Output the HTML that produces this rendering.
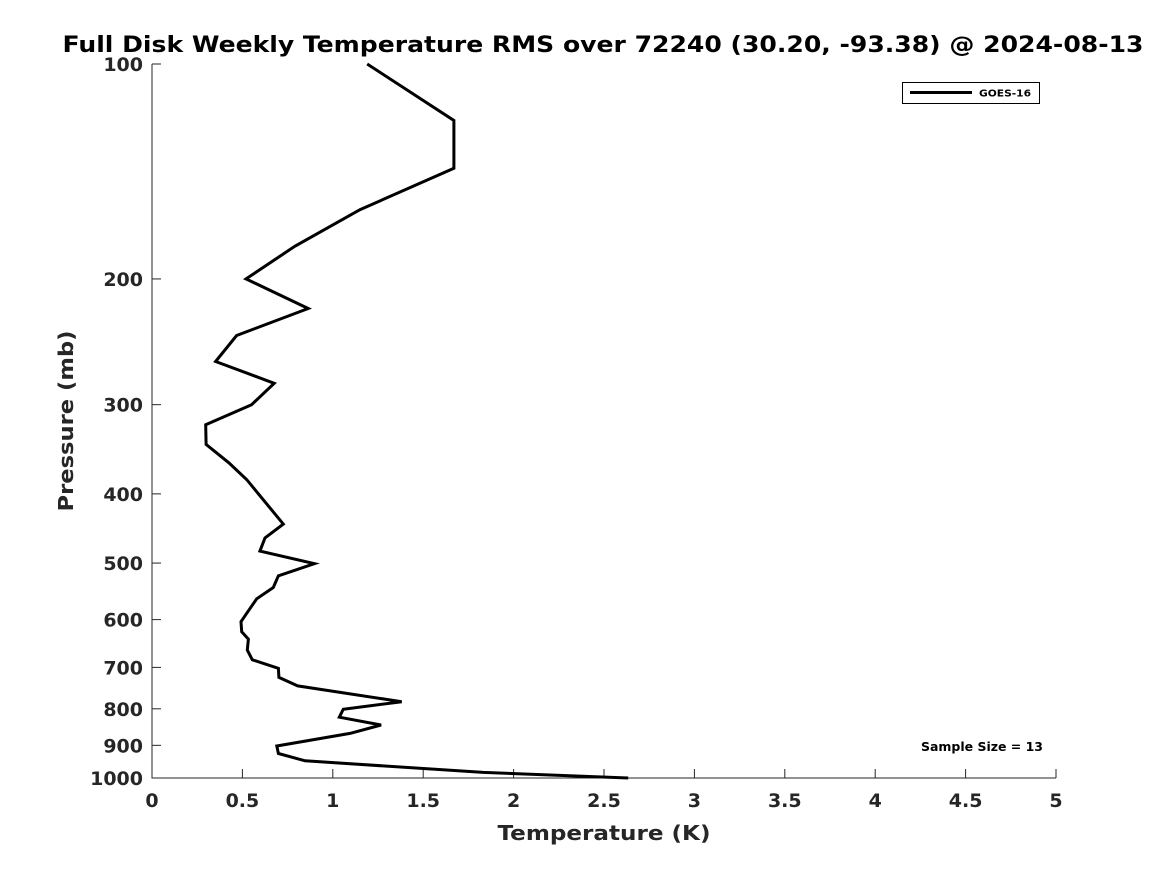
<!DOCTYPE html>
<html><head><meta charset="utf-8"><style>
body{margin:0;background:#fff;}
svg{display:block;font-family:"DejaVu Sans","Liberation Sans",sans-serif;}
</style></head><body>
<svg id="chart" width="1167" height="875" viewBox="0 0 1167 875">
<rect width="1167" height="875" fill="#fff"/>
<text x="603" y="52" text-anchor="middle" font-size="22" font-weight="bold" fill="#000" textLength="1081" lengthAdjust="spacingAndGlyphs">Full Disk Weekly Temperature RMS over 72240 (30.20, -93.38) @ 2024-08-13</text>
<g id="axes"></g>
<text x="604" y="840" text-anchor="middle" font-size="20" font-weight="bold" fill="#262626" textLength="213" lengthAdjust="spacingAndGlyphs">Temperature (K)</text>
<text transform="translate(73,421) rotate(-90)" text-anchor="middle" font-size="20" font-weight="bold" fill="#262626" textLength="181" lengthAdjust="spacingAndGlyphs">Pressure (mb)</text>
<g>
<rect x="902.5" y="82.5" width="137" height="21" fill="#fff" stroke="#000" stroke-width="1"/>
<line x1="910" y1="92.5" x2="972" y2="92.5" stroke="#000" stroke-width="3"/>
<text x="979" y="96.5" font-size="10" font-weight="bold" fill="#000" textLength="52" lengthAdjust="spacingAndGlyphs">GOES-16</text>
</g>
<text x="921" y="751" font-size="12" font-weight="bold" fill="#000" textLength="122" lengthAdjust="spacingAndGlyphs">Sample Size = 13</text>
</svg>
<script>
const xTicks=[0,0.5,1,1.5,2,2.5,3,3.5,4,4.5,5];
const xTickLabels=["0","0.5","1","1.5","2","2.5","3","3.5","4","4.5","5"];
const yTicks=[100,200,300,400,500,600,700,800,900,1000];
const yTickLabels=["100","200","300","400","500","600","700","800","900","1000"];
const pressures=[100,120,140,160,180,200,220,240,261,280,300,320,341,362,382,441,461,481,501,521,541,561,588,604,624,639,662,683,702,723,743,782,801,822,843,866,902,924,946,982,1000];
const rms=[1.19,1.67,1.67,1.15,0.79,0.52,0.864,0.468,0.352,0.676,0.551,0.297,0.299,0.426,0.524,0.726,0.625,0.597,0.898,0.699,0.671,0.579,0.524,0.492,0.496,0.533,0.527,0.555,0.699,0.702,0.806,1.381,1.058,1.036,1.267,1.095,0.69,0.699,0.846,1.832,2.634];
const L=152,R=1056,T=64,B=778;
const xs=v=>L+(v-0)/(5-0)*(R-L);
const ys=p=>T+(Math.log10(p)-2)/(3-2)*(B-T);
const NS="http://www.w3.org/2000/svg";
const g=document.getElementById('axes');
function mk(t,a){const e=document.createElementNS(NS,t);for(const k in a)e.setAttribute(k,a[k]);g.appendChild(e);return e;}
let e=mk('line',{x1:L,y1:T,x2:L,y2:B+0.5,stroke:'#262626','stroke-width':1});


e=mk('line',{x1:L,y1:B,x2:R,y2:B,stroke:'#262626','stroke-width':1});


xTicks.forEach((v,i)=>{
 const x=xs(v);
 let t=mk('line',{x1:x,y1:B,x2:x,y2:B-9,stroke:'#262626','stroke-width':1});
 
 
 let l=mk('text',{x:x,y:B+29,'text-anchor':'middle','font-size':19,'font-weight':'bold',fill:'#262626'});
 l.textContent=xTickLabels[i];
 
 
});
yTicks.forEach((p,i)=>{
 const y=ys(p);
 let t=mk('line',{x1:L,y1:y,x2:L+9,y2:y,stroke:'#262626','stroke-width':1});
 
 
 let l=mk('text',{x:L-9,y:y+7,'text-anchor':'end','font-size':19,'font-weight':'bold',fill:'#262626'});
 l.textContent=yTickLabels[i];
 
 
});
const pts=rms.map((v,i)=>xs(v).toFixed(1)+','+ys(pressures[i]).toFixed(1)).join(' ');
const line=mk('polyline',{points:pts,fill:'none',stroke:'#000','stroke-width':3,'stroke-linejoin':'miter'});


</script>
</body></html>
